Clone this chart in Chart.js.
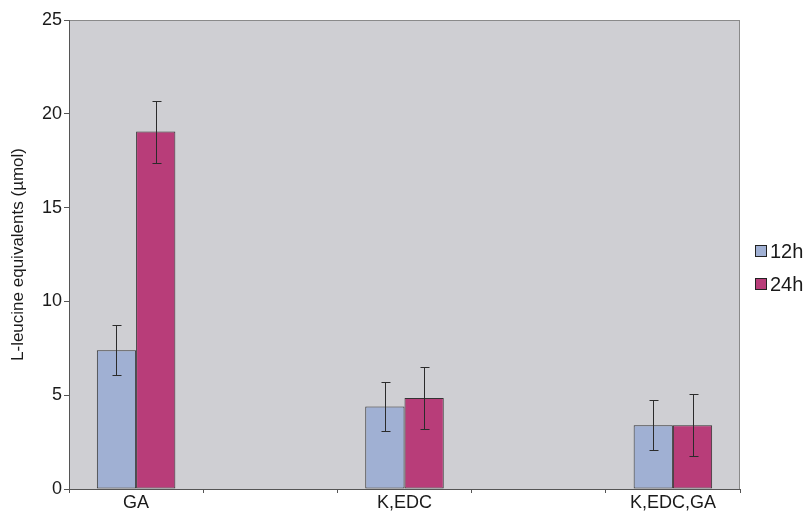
<!DOCTYPE html>
<html>
<head>
<meta charset="utf-8">
<script src="https://cdn.jsdelivr.net/npm/chart.js@4/dist/chart.umd.min.js"></script>
<style>
  html, body { margin: 0; padding: 0; background: #fff; overflow: hidden; }
  #wrap { width: 810px; height: 513px; }
</style>
</head>
<body>
<div id="wrap"><canvas id="myChart"></canvas></div>
<script>
// data (empty slots keep the wide gaps between groups)
const categories = ['GA', '', 'K,EDC', '', 'K,EDC,GA'];
const seriesNames = ['12h', '24h'];
const values12h = [7.4, null, 4.4, null, 3.4];
const values24h = [19.05, null, 4.85, null, 3.4];
const err12h = [1.33, null, 1.33, null, 1.33];
const err24h = [1.65, null, 1.65, null, 1.65];
const yTicks = [0, 5, 10, 15, 20, 25];

const FONT = 'Liberation Sans, Arial, sans-serif';
const colors = ['#a0b0d3', '#b83d79'];

// grey plot area with a thin frame
const plotBackground = {
    id: 'plotBackground',
    beforeDraw(chart) {
        const a = chart.chartArea;
        const ctx = chart.ctx;
        ctx.save();
        ctx.fillStyle = '#cfcfd3';
        ctx.fillRect(a.left, a.top, a.right - a.left, a.bottom - a.top);
        ctx.strokeStyle = '#8a8a8a';
        ctx.lineWidth = 1;
        ctx.strokeRect(Math.round(a.left) + 0.5, Math.round(a.top) + 0.5,
            Math.round(a.right - a.left) - 1, Math.round(a.bottom - a.top));
        ctx.restore();
    }
};

// error bars drawn from the scales
const errorBars = {
    id: 'errorBars',
    afterDatasetsDraw(chart) {
        const ctx = chart.ctx;
        const y = chart.scales.y;
        const errs = [err12h, err24h];
        ctx.save();
        ctx.strokeStyle = '#2b2b2b';
        ctx.lineWidth = 1;
        chart.data.datasets.forEach(function(ds, di) {
            const meta = chart.getDatasetMeta(di);
            meta.data.forEach(function(bar, i) {
                const v = ds.data[i];
                const e = errs[di][i];
                if (v == null || e == null) return;
                const x = Math.round(bar.x) + 0.5;
                const top = Math.round(y.getPixelForValue(v + e)) + 0.5;
                const bot = Math.round(y.getPixelForValue(v - e)) + 0.5;
                ctx.beginPath();
                ctx.moveTo(x, top); ctx.lineTo(x, bot);
                ctx.moveTo(x - 4, top); ctx.lineTo(x + 5, top);
                ctx.moveTo(x - 4, bot); ctx.lineTo(x + 5, bot);
                ctx.stroke();
            });
        });
        ctx.restore();
    }
};

// legend to the right of the plot, running off the edge like the original
const sideLegend = {
    id: 'sideLegend',
    afterDraw(chart) {
        const ctx = chart.ctx;
        const a = chart.chartArea;
        ctx.save();
        ctx.font = '20px ' + FONT;
        ctx.textBaseline = 'middle';
        seriesNames.forEach(function(name, i) {
            const cy = 251 + i * 33;
            const bx = a.right + 15;
            ctx.fillStyle = colors[i];
            ctx.fillRect(bx, cy - 6, 12, 12);
            ctx.strokeStyle = '#222222';
            ctx.lineWidth = 1;
            ctx.strokeRect(bx + 0.5, cy - 5.5, 11, 11);
            ctx.fillStyle = '#1a1a1a';
            ctx.fillText(name, bx + 15, cy + 1);
        });
        ctx.restore();
    }
};

const ctx = document.getElementById('myChart').getContext('2d');
new Chart(ctx, {
    type: 'bar',
    data: {
        labels: categories,
        datasets: [{
            label: seriesNames[0],
            data: values12h,
            backgroundColor: colors[0],
            borderColor: '#333333',
            borderWidth: 1,
            borderSkipped: false
        }, {
            label: seriesNames[1],
            data: values24h,
            backgroundColor: colors[1],
            borderColor: '#333333',
            borderWidth: 1,
            borderSkipped: false
        }]
    },
    plugins: [plotBackground, errorBars, sideLegend],
    options: {
        responsive: true,
        maintainAspectRatio: false,
        animation: false,
        datasets: {
            bar: {
                categoryPercentage: 0.585,
                barPercentage: 1.0
            }
        },
        layout: {
            padding: { top: 20, right: 70, bottom: 0, left: 4 }
        },
        plugins: {
            legend: { display: false },
            tooltip: { enabled: false }
        },
        scales: {
            x: {
                grid: {
                    drawOnChartArea: false,
                    drawTicks: true,
                    tickLength: 4,
                    color: '#555555'
                },
                border: { color: '#555555', width: 1 },
                ticks: {
                    color: '#1a1a1a',
                    padding: 1,
                    maxRotation: 0,
                    font: { family: FONT, size: 18, lineHeight: 1.0 }
                }
            },
            y: {
                min: 0,
                max: 25,
                afterBuildTicks(axis) {
                    axis.ticks = yTicks.map(function(v) { return { value: v }; });
                },
                afterFit(axis) {
                    axis.width = 65;
                },
                grid: {
                    drawOnChartArea: false,
                    drawTicks: true,
                    tickLength: 5,
                    color: '#555555'
                },
                border: { color: '#555555', width: 1 },
                ticks: {
                    color: '#1a1a1a',
                    padding: 2,
                    font: { family: FONT, size: 18 }
                },
                title: {
                    display: true,
                    text: 'L-leucine equivalents (µmol)',
                    color: '#1a1a1a',
                    padding: { top: 4, bottom: 0 },
                    font: { family: FONT, size: 17 }
                }
            }
        }
    }
});
</script>
</body>
</html>
